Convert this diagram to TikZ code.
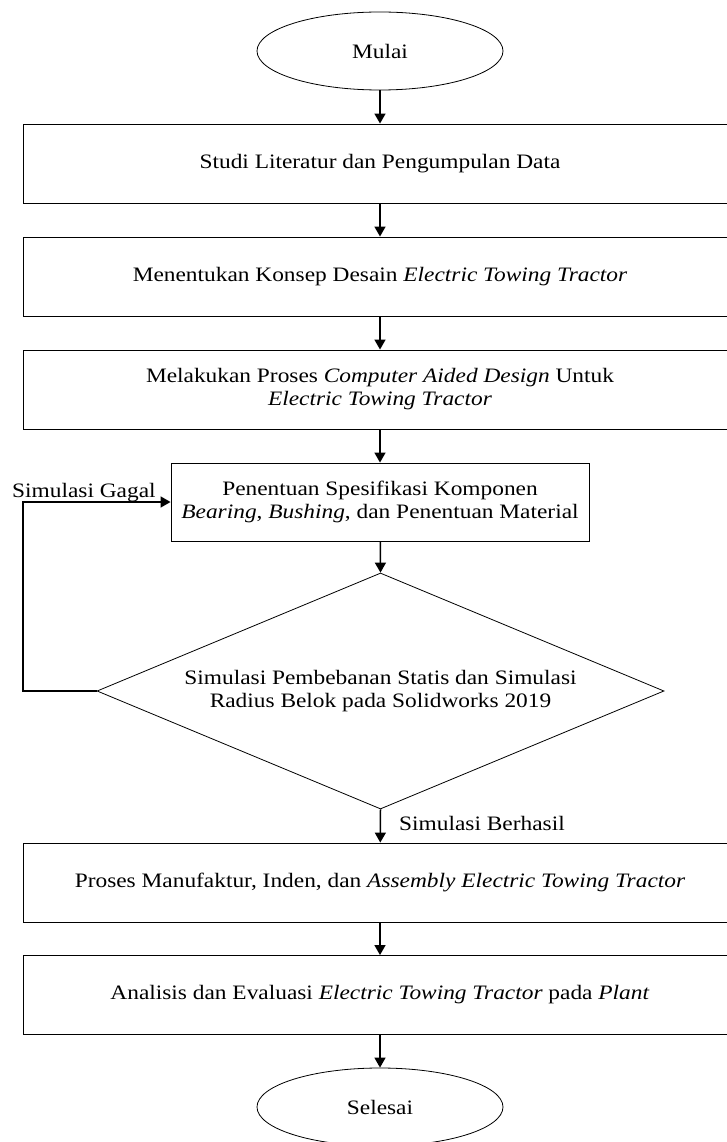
\documentclass[tikz,border=0pt]{standalone}
\usepackage{fontspec}
\setmainfont{Liberation Serif}[FakeStretch=1.14]
\usetikzlibrary{shapes.geometric,arrows.meta}
\newcommand{\figfont}{\fontsize{20.5}{23}\selectfont}
\begin{document}
\begin{tikzpicture}[x=1pt,y=-1pt,
  box/.style={draw, line width=0.9pt, minimum width=714pt, minimum height=79pt, inner sep=0pt, align=center, font=\figfont},
  term/.style={draw, ellipse, line width=0.8pt, minimum width=246pt, minimum height=78pt, inner sep=0pt, font=\figfont},
  dec/.style={draw, diamond, aspect=2.4, line width=0.8pt, minimum width=567pt, minimum height=236pt, inner sep=0pt, align=center, font=\figfont},
  lbl/.style={inner sep=0pt, font=\figfont},
  arr/.style={line width=1.5pt, -{Triangle[length=10pt,width=11pt]}}]
\clip (0,0) rectangle (727,1142);
\fill[white] (0,0) rectangle (727,1142);
\node[term] (start) at (380,51) {Mulai};
\node[box] (b1) at (380,163.5) {Studi Literatur dan Pengumpulan Data};
\node[box] (b2) at (380,276.5) {Menentukan Konsep Desain \textit{Electric Towing Tractor}};
\node[box] (b3) at (380,389.5) {Melakukan Proses \textit{Computer Aided Design} Untuk\\\textit{Electric Towing Tractor}};
\node[box, minimum width=418pt, minimum height=78pt] (b4) at (380,502) {Penentuan Spesifikasi Komponen\\\textit{Bearing}, \textit{Bushing}, dan Penentuan Material};
\node[dec] (dia) at (380.5,691) {Simulasi Pembebanan Statis dan Simulasi\\Radius Belok pada Solidworks 2019};
\node[box] (b5) at (380,882.5) {Proses Manufaktur, Inden, dan \textit{Assembly Electric Towing Tractor}};
\node[box] (b6) at (380,995) {Analisis dan Evaluasi \textit{Electric Towing Tractor} pada \textit{Plant}};
\node[term] (end) at (380,1107) {Selesai};
\coordinate (loopx) at (23,0);
\node[lbl, anchor=base west] (gagal) at (12,497) {Simulasi Gagal};
\node[lbl, anchor=base west] (berhasil) at (399,830) {Simulasi Berhasil};
\draw[arr] (start) -- (b1);
\draw[arr] (b1) -- (b2);
\draw[arr] (b2) -- (b3);
\draw[arr] (b3) -- (b4);
\draw[arr] (b4) -- (dia.north);
\draw[arr] (dia.south) -- (b5);
\draw[arr] (b5) -- (b6);
\draw[arr] (b6) -- (end);
\draw[arr] (dia.west) -- (dia.west -| loopx) |- (b4.west);
\end{tikzpicture}
\end{document}
